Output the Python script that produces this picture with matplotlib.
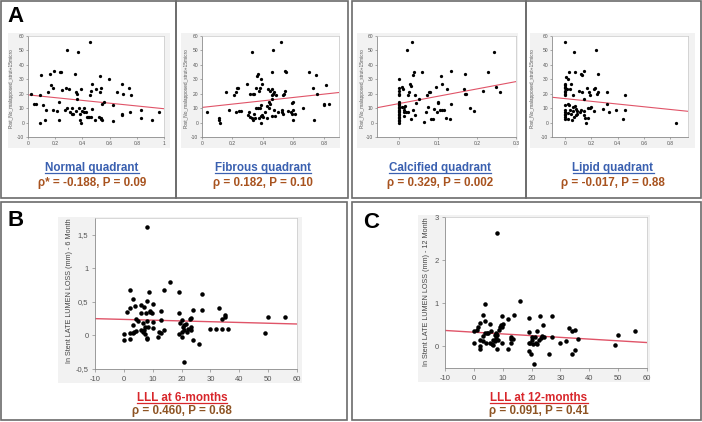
import matplotlib
matplotlib.use("Agg")
import matplotlib.pyplot as plt
from matplotlib.lines import Line2D
from matplotlib.patches import Rectangle
from matplotlib.ticker import FuncFormatter

# ----------------------------------------------------
# Data
# ----------------------------------------------------
normal_x = [
    0.025, 0.045, 0.056, 0.086, 0.088, 0.093, 0.11, 0.125, 0.135, 0.147,
    0.16, 0.167, 0.184, 0.19, 0.186, 0.21, 0.228, 0.228, 0.233, 0.245,
    0.25, 0.27, 0.28, 0.29, 0.29, 0.30, 0.31, 0.32, 0.326, 0.333,
    0.345, 0.35, 0.355, 0.36, 0.363, 0.37, 0.375, 0.38, 0.382, 0.387,
    0.387, 0.40, 0.41, 0.415, 0.424, 0.436, 0.443, 0.45, 0.46, 0.456,
    0.456, 0.46, 0.468, 0.468, 0.49, 0.50, 0.52, 0.527, 0.53, 0.534,
    0.534, 0.54, 0.546, 0.546, 0.56, 0.596, 0.625, 0.625, 0.652, 0.69,
    0.69, 0.694, 0.70, 0.743, 0.748, 0.755, 0.83, 0.83, 0.91, 0.96]
normal_y = [
    20, 13, 13, 0, 19, 33, 12, 2, 8.5, 21,
    34, 26, 24, 36, 9, 8, 2, 14, 35, 35,
    22.5, 9, 24, 50, 10, 23, 7, 10, 6, 6,
    34, 8, 21, 16.5, 20, 49, 10, 6, 2, 0,
    23, 8, 7, 10, 7, 4, 4, 4, 4, 56,
    19, 22, 27, 9.5, 2, 23, 4, 21, 32, 24,
    3, 2.7, 13, 2, 14, 30, 12, 1, 21, 6,
    27, 5, 20, 24, 7, 19, 9, 3, 2, 7]

fibrous_x = [
    0.033, 0.109, 0.109, 0.115, 0.159, 0.176, 0.213, 0.224, 0.23, 0.239,
    0.224, 0.245, 0.254, 0.293, 0.30, 0.309, 0.315, 0.317, 0.326, 0.326,
    0.333, 0.335, 0.343, 0.343, 0.348, 0.352, 0.354, 0.359, 0.365, 0.37,
    0.374, 0.376, 0.38, 0.38, 0.387, 0.387, 0.39, 0.39, 0.393, 0.396,
    0.40, 0.413, 0.424, 0.43, 0.435, 0.44, 0.441, 0.446, 0.448, 0.457,
    0.457, 0.46, 0.463, 0.463, 0.467, 0.467, 0.472, 0.47, 0.478, 0.485,
    0.50, 0.52, 0.526, 0.533, 0.539, 0.528, 0.533, 0.543, 0.55, 0.543,
    0.565, 0.587, 0.59, 0.598, 0.593, 0.598, 0.60, 0.613, 0.663, 0.706,
    0.728, 0.735, 0.75, 0.754, 0.80, 0.804, 0.815, 0.837]
fibrous_y = [
    7, 3, 2, 0, 21, 9, 19, 21, 24, 24,
    7, 8, 8, 27, 5.5, 7, 20, 4, 49, 3,
    20, 1.5, 6, 20, 3, 24, 10, 32, 34, 10,
    22, 3, 10, 24, 4.5, 12, 0, 30.5, 27, 5,
    4, 7, 11.5, 3, 23, 14, 10, 13, 22, 23,
    19, 4.5, 35, 16.5, 20, 50, 21.5, 9, 4.5, 19,
    7, 56, 7, 19, 20, 9, 6, 36, 35, 22,
    8, 7, 13.7, 14, 6, 2, 8.5, 6, 10, 35,
    24, 2, 33, 20, 13, 12, 26, 13]

calcified_x = [
    0, 0, 0, 0, 0, 0, 0, 0, 0, 0,
    0, 0, 0, 0, 0, 0, 0, 0, 0, 0,
    0.0085, 0.01, 0.011, 0.013, 0.013, 0.015, 0.015, 0.017, 0.02, 0.021,
    0.023, 0.024, 0.028, 0.03, 0.0315, 0.032, 0.034, 0.037, 0.038, 0.04,
    0.043, 0.043, 0.045, 0.053, 0.06, 0.066, 0.07, 0.072, 0.074, 0.077,
    0.081, 0.084, 0.087, 0.09, 0.095, 0.098, 0.10, 0.102, 0.105, 0.108,
    0.111, 0.112, 0.117, 0.12, 0.125, 0.132, 0.133, 0.134, 0.166, 0.169,
    0.17, 0.173, 0.183, 0.194, 0.216, 0.228, 0.243, 0.25, 0.258]
calcified_y = [
    0, 1, 2, 3, 4, 5, 6, 7, 8, 9,
    10, 11, 12, 13, 14, 19, 20, 22, 24, 30,
    10.7, 24.5, 23, 8.5, 4.5, 10.7, 7, 11.4, 7.3, 50,
    19, 7.3, 21, 27, 25.6, 2.7, 56, 8.5, 33, 35,
    19, 5, 13.5, 16.5, 34.8, 0.5, 7.3, 19, 10.7, 21,
    21, 2.3, 2.3, 9.6, 24.5, 7.3, 13.7, 14, 9, 32.5,
    27, 9, 9, 3, 23, 2.3, 13, 36, 23, 34,
    20, 20, 10.3, 8, 22, 35, 49, 24.5, 21]

lipid_x = [
    0, 0, 0, 0, 0, 0, 0, 0, 0, 0,
    0, 0, 0, 0, 0, 0, 0.008, 0.018, 0.013, 0.02,
    0.025, 0.025, 0.03, 0.033, 0.038, 0.038, 0.043, 0.046, 0.05, 0.058,
    0.058, 0.063, 0.07, 0.07, 0.076, 0.078, 0.08, 0.084, 0.089, 0.094,
    0.106, 0.114, 0.119, 0.12, 0.127, 0.127, 0.14, 0.14, 0.144, 0.147,
    0.152, 0.157, 0.165, 0.172, 0.177, 0.182, 0.19, 0.19, 0.2, 0.22,
    0.228, 0.22, 0.235, 0.24, 0.248, 0.253, 0.29, 0.32, 0.32, 0.33,
    0.39, 0.44, 0.455, 0.455, 0.84]
lipid_y = [
    55.5, 27, 26, 25, 24, 22, 21, 20, 19, 12,
    8.4, 7.3, 6, 5, 4, 2.3, 31.6, 30, 23, 13,
    6.8, 2.3, 35, 12.3, 23.6, 8.4, 26.6, 6, 1.6, 19.3,
    10.7, 7.7, 3.9, 49, 11.8, 35, 9.5, 5, 6, 7.7,
    22, 7.3, 34, 8.4, 21, 33, 36, 7.7, 16, 5.5,
    3.4, 0, 24, 3.4, 10.2, 21, 19, 10.2, 10.7, 23.6,
    24.3, 7.7, 50, 19.8, 21, 34, 9.5, 21, 13, 7.3,
    8.4, 2.3, 19.3, 8.4, 0]

lll6_x = [
    0, 0, 1, 2, 2, 2, 2.3, 3, 3, 3.2,
    3.6, 4, 4.2, 4.3, 5, 6, 6, 6, 6.7, 6.7,
    7, 7, 7.3, 7.3, 7.6, 8, 8, 8, 8, 8,
    8.4, 8.8, 9, 9.2, 9.6, 10, 10, 10.2, 12, 12.2,
    13, 13, 13, 14, 14, 16, 19, 19, 19, 19.4,
    20, 20, 20.3, 20.6, 21, 21, 21, 21.7, 22, 22.3,
    23, 23.1, 23.2, 23.4, 24, 24, 26, 27, 27, 30,
    32, 33, 34, 34, 35, 35, 36, 49, 50, 56]
lll6_y = [
    0.025, -0.075, 0.35, -0.05, 0.41, 0.67, 0.04, 0.035, 0.15, 0.54,
    0.05, 0.44, 0.25, 0.065, 0.21, 0.45, 0.34, 0.075, 0.05, 0.19,
    0.42, 0.085, 0.12, 0.025, 0.34, 1.62, 0.52, -0.04, -0.06, 0.22,
    0.12, 0.65, 0.35, 0.37, 0.34, 0.47, 0.2, 0.11, -0.025, 0.05,
    0.36, 0.23, 0.04, 0.67, 0.075, 0.8, 0.65, 0.33, 0.025, 0.18,
    0.23, -0.025, 0.05, 0.12, -0.39, 0.15, 0.075, 0.17, 0.05, 0.09,
    0.25, 0.12, 0.26, 0.075, 0.38, -0.075, -0.13, 0.62, 0.38, 0.1,
    0.1, 0.41, 0.1, 0.25, 0.27, 0.31, 0.09, 0.035, 0.28, 0.28]

lll12_x = [
    0, 0, 1, 1.6, 2, 2, 2, 2.3, 3, 3,
    3.1, 3.7, 4, 4, 4.1, 4.6, 5, 5.7, 5.7, 6,
    6.3, 6.6, 6.8, 7.2, 7.2, 7.5, 7.8, 8, 8, 8.1,
    8.3, 8.6, 8.9, 9.5, 9.8, 9.8, 9.8, 10.1, 12, 12,
    12.7, 12.7, 13, 13.5, 14, 16, 19, 19, 19, 19.1,
    19.6, 19.7, 20, 20.1, 20.5, 21, 21.1, 21.4, 22, 22,
    22.5, 23, 23.4, 23.7, 24, 24.2, 26, 27, 27, 30,
    32, 33, 34, 34, 35, 35, 36, 49, 50, 56]
lll12_y = [
    0.09, 0.35, 0.38, 0.44, 0.54, 0, -0.06, 0.15, 0.73, 0.25,
    0.13, 0.3, 0.58, 0.98, 0.08, 0.3, 0.3, 0.52, 0.08, 0.35,
    0.05, 0.15, 0.04, 0.27, 0.13, 0.19, 0.31, 2.64, -0.06, 0.27,
    0.15, 0.38, 0.46, 0.5, 0.71, 0.44, 0.09, 0.52, 0.64, -0.06,
    0.08, 0.17, 0.21, 0.18, 0.73, 1.05, 0.67, 0.33, 0.09, -0.1,
    0.08, -0.18, 0.21, 0.15, 0.05, -0.41, 0.21, 0.08, 0.05, 0.35,
    0.15, 0.71, 0.19, 0.25, 0.5, 0.23, -0.18, 0.71, 0.21, 0.08,
    0.12, 0.42, 0.35, -0.18, 0.38, -0.08, 0.17, 0.04, 0.27, 0.36]

# fitted lines: intercept, slope
normal_fit = [19.2, -9.6]
fibrous_fit = [10.5, 11.5]
calcified_fit = [13.1, 51.0]
lipid_fit = [16.6, -9.4]
lll6_fit = [0.239, -0.00114]
lll12_fit = [0.33, -0.004]

quadrant_titles = ["Normal quadrant", "Fibrous quadrant", "Calcified quadrant", "Lipid quadrant"]
quadrant_stats = ["ρ* = -0.188, P = 0.09", "ρ = 0.182, P = 0.10",
                  "ρ = 0.329, P = 0.002", "ρ = -0.017, P = 0.88"]
lll_titles = ["LLL at 6-months", "LLL at 12-months"]
lll_stats = ["ρ = 0.460, P = 0.68", "ρ = 0.091, P = 0.41"]
quad_ylabel = "Post_No_malapposed_strut+15micro"
lll_ylabels = ["In Stent LATE LUMEN LOSS (mm) - 6 Month",
               "In Stent LATE LUMEN LOSS (mm) - 12 Month"]

# ----------------------------------------------------
# Figure setup
# ----------------------------------------------------
W, H = 702, 422
plt.rcParams["font.family"] = ["Liberation Sans", "DejaVu Sans"]
plt.rcParams["axes.unicode_minus"] = False

fig = plt.figure(figsize=(W / 100, H / 100), dpi=100)
fig.patch.set_facecolor("white")


def fbox(x0, y0, x1, y1):
    return [x0 / W, 1 - y1 / H, (x1 - x0) / W, (y1 - y0) / H]


def frame(x0, y0, x1, y1):
    fig.add_artist(Rectangle((x0 / W, 1 - y1 / H), (x1 - x0) / W, (y1 - y0) / H,
                             transform=fig.transFigure, fill=False,
                             edgecolor="#6b6b6b", lw=1.2))


def shade(x0, y0, x1, y1):
    fig.add_artist(Rectangle((x0 / W, 1 - y1 / H), (x1 - x0) / W, (y1 - y0) / H,
                             transform=fig.transFigure, facecolor="#f2f2f2",
                             edgecolor="none", zorder=-5))


def caption(xc, yb, s, color, underline=False):
    t = fig.text(xc / W, 1 - yb / H, s, ha="center", va="baseline",
                 fontsize=8.4, fontweight="bold", color=color)
    if underline:
        bb = t.get_window_extent(fig.canvas.get_renderer())
        yy = 1 - (yb + 1.6) / H
        fig.add_artist(Line2D([bb.x0 / W, bb.x1 / W], [yy, yy], color=color,
                              lw=0.9, transform=fig.transFigure))


def style_axes(ax, fs, tick_len, pad):
    for side in ["top", "right"]:
        ax.spines[side].set_color("#c8c8c8")
        ax.spines[side].set_linewidth(0.5)
    for side in ["left", "bottom"]:
        ax.spines[side].set_color("#8a8a8a")
        ax.spines[side].set_linewidth(0.6)
    ax.tick_params(labelsize=fs, colors="#8a8a8a", labelcolor="#555555",
                   length=tick_len, width=0.5, pad=pad)


# panel boxes
for box in [(1, 1, 176, 198), (176, 1, 348, 198), (352, 1, 526, 198),
            (526, 1, 701, 198), (1, 202, 347, 420), (352, 202, 701, 420)]:
    frame(*box)

# light gray plot backgrounds
for box in [(8, 33, 170, 148), (181, 33, 340, 148), (357, 33, 518, 148),
            (530, 33, 695, 148), (58, 217, 302, 383), (418, 215, 650, 382)]:
    shade(*box)

fig.text(16 / W, 1 - 16 / H, "A", fontsize=16, fontweight="bold", ha="center", va="center")
fig.text(16 / W, 1 - 220 / H, "B", fontsize=16, fontweight="bold", ha="center", va="center")
fig.text(371 / W, 1 - 223 / H, "C", fontsize=16, fontweight="bold", ha="center", va="center")

fmt_dot = FuncFormatter(lambda v, p: f"{v:g}")
fmt_comma = FuncFormatter(lambda v, p: f"{v:g}".replace(".", ","))
line_col = "#e05468"

# ----------------------------------------------------
# A: quadrant panels
# ----------------------------------------------------
quad_data = [(normal_x, normal_y, normal_fit), (fibrous_x, fibrous_y, fibrous_fit),
             (calcified_x, calcified_y, calcified_fit), (lipid_x, lipid_y, lipid_fit)]
quad_boxes = [(28, 36, 164, 137), (202, 36, 339, 137), (377, 36, 516, 137), (552, 36, 688, 137)]
quad_xlims = [(0, 1), (0, 0.9), (-0.055, 0.3), (-0.1, 0.935)]
quad_xticks = [[0, 0.2, 0.4, 0.6, 0.8, 1], [0, 0.2, 0.4, 0.6, 0.8],
               [0, 0.1, 0.2, 0.3], [0, 0.2, 0.4, 0.6, 0.8]]
quad_label_x = [-0.103, -0.1, -0.086, -0.125]
quad_centers = [92, 263, 440, 613]

for i in range(4):
    xs, ys, fit = quad_data[i]
    ax = fig.add_axes(fbox(*quad_boxes[i]))
    ax.scatter(xs, ys, s=5.5, color="black", linewidths=0, zorder=3)
    ax.axline((0, fit[0]), slope=fit[1], color=line_col, lw=0.8, zorder=2)
    ax.set_xlim(*quad_xlims[i])
    ax.set_ylim(-10, 60)
    ax.set_xticks(quad_xticks[i])
    ax.set_yticks(range(-10, 61, 10))
    ax.xaxis.set_major_formatter(fmt_dot)
    style_axes(ax, 3.6, 1.5, 1.2)
    ax.set_ylabel(quad_ylabel, fontsize=3.4, color="#555555")
    ax.yaxis.set_label_coords(quad_label_x[i], 0.48)
    caption(quad_centers[i], 171, quadrant_titles[i], "#3a60b0", underline=True)
    caption(quad_centers[i], 186, quadrant_stats[i], "#a8531f")

# ----------------------------------------------------
# B and C: late lumen loss panels
# ----------------------------------------------------
lll_data = [(lll6_x, lll6_y, lll6_fit), (lll12_x, lll12_y, lll12_fit)]
lll_boxes = [(95, 218, 297, 369), (445, 217, 647, 368)]
lll_ylims = [(-0.5, 1.75), (-0.5, 3)]
lll_yticks = [[-0.5, 0, 0.5, 1, 1.5], [0, 1, 2, 3]]
lll_label_pos = [(-0.109, 0.52), (-0.074, 0.507)]
lll_centers = [182, 539]

for i in range(2):
    xs, ys, fit = lll_data[i]
    ax = fig.add_axes(fbox(*lll_boxes[i]))
    ax.scatter(xs, ys, s=10.5, color="black", linewidths=0, zorder=3)
    ax.axline((0, fit[0]), slope=fit[1], color=line_col, lw=1.0, zorder=2)
    ax.set_xlim(-10, 60)
    ax.set_ylim(*lll_ylims[i])
    ax.set_xticks(range(-10, 61, 10))
    ax.set_yticks(lll_yticks[i])
    ax.yaxis.set_major_formatter(fmt_comma)
    style_axes(ax, 5.5, 2.5, 2.2)
    ax.set_ylabel(lll_ylabels[i], fontsize=5.2, color="#444444")
    ax.yaxis.set_label_coords(*lll_label_pos[i])
    caption(lll_centers[i], 401, lll_titles[i], "#d8262b", underline=True)
    caption(lll_centers[i], 414, lll_stats[i], "#8e5424")

fig.savefig("out.png", dpi=100)
